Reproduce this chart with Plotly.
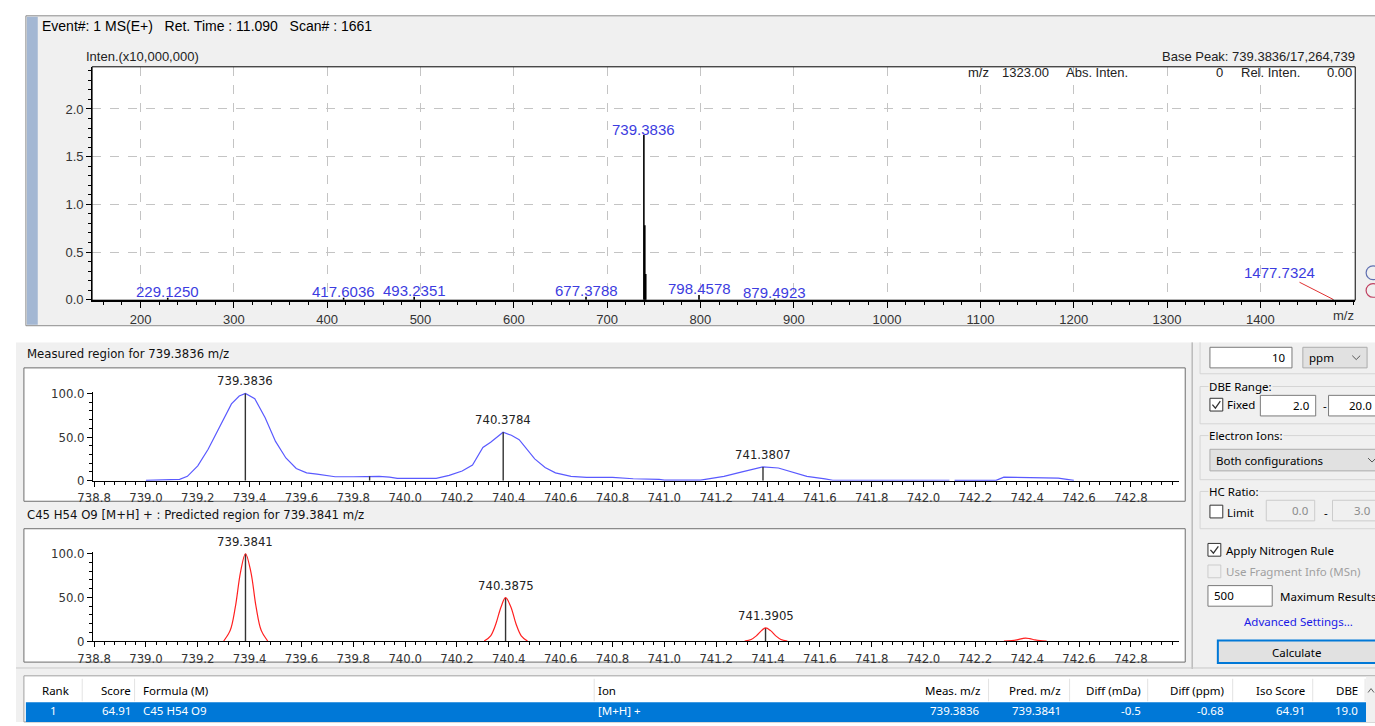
import plotly.graph_objects as go

W, H = 1375, 726

# ---------------- survey scan (intensity in units of 10,000,000) ----------------
survey_mz = [229.1250, 417.6036, 493.2351, 677.3788, 739.3836, 740.3784, 741.3807,
             798.4578, 879.4923, 1477.7324]
survey_int = [0.02, 0.02, 0.03, 0.03, 1.7264739, 0.78, 0.27, 0.05, 0.01, 0.005]
survey_labelled = [229.1250, 417.6036, 493.2351, 677.3788, 739.3836, 798.4578, 879.4923]
survey_callout = 1477.7324
survey_xticks = [200, 300, 400, 500, 600, 700, 800, 900, 1000, 1100, 1200, 1300, 1400]
survey_yticks = [0.0, 0.5, 1.0, 1.5, 2.0]
base_peak_mz = 739.3836
base_peak_abs = 17264739
event_no, ret_time, scan_no = 1, 11.090, 1661
cursor_mz, cursor_abs, cursor_rel = 1323.00, 0, 0.00

# ---------------- measured isotope region (relative %) ----------------
meas_profile_mz = [739.00, 739.05, 739.10, 739.13, 739.16, 739.20, 739.24, 739.29, 739.33, 739.36,
                   739.384, 739.42, 739.46, 739.50, 739.54, 739.58, 739.62, 739.66, 739.70, 739.73,
                   739.80, 739.84, 739.90, 739.94, 739.97, 740.12, 740.17, 740.22, 740.26, 740.30,
                   740.33, 740.378, 740.41, 740.44, 740.50, 740.54, 740.58, 740.64, 740.70, 740.80,
                   740.88, 740.98, 741.00, 741.14, 741.18, 741.23, 741.30, 741.38, 741.44, 741.49,
                   741.55, 741.62, 741.65, 742.10, None, 742.12, 742.28, 742.31, 742.36, 742.43,
                   742.52, 742.58]
meas_profile_rel = [0.3, 0.5, 0.8, 1.5, 5, 17, 36, 64, 88, 97,
                    100, 94, 72, 45, 26, 14, 9, 7.5, 6, 4.5,
                    4.5, 5, 5, 4, 2.6, 2.6, 6, 11, 18, 38,
                    44, 55.5, 52, 47, 25, 15, 9, 5, 3.7, 3.7,
                    2.2, 1.5, 0.7, 0.7, 2.5, 5, 10, 15.7, 14.5, 10,
                    5, 2, 0.5, 0.5, None, 0.3, 0.3, 4, 3.8, 3,
                    3, 0.3]
meas_centroid_mz = [739.3836, 739.8630, 740.3784, 741.3807]
meas_centroid_rel = [100.0, 5.0, 55.5, 15.7]
meas_labelled = [739.3836, 740.3784, 741.3807]

# ---------------- predicted isotope pattern, C45 H54 O9 [M+H]+ ----------------
pred_centroid_mz = [739.3841, 740.3875, 741.3905, 742.3935]
pred_centroid_rel = [100.0, 49.6, 15.0, 3.4]
pred_labelled = [739.3841, 740.3875, 741.3905]
pred_peak1_mz = [739.300, 739.325, 739.345, 739.365, 739.3841, 739.405, 739.425, 739.445, 739.470]
pred_peak1_rel = [0, 12, 39, 79, 100, 79, 39, 12, 0]
pred_peak2_mz = [740.305, 740.330, 740.350, 740.370, 740.3875, 740.408, 740.428, 740.448, 740.472]
pred_peak2_rel = [0, 6, 19.5, 39, 49.6, 39, 19.5, 6, 0]
pred_peak3_mz = [741.310, 741.335, 741.355, 741.375, 741.3905, 741.410, 741.430, 741.450, 741.475]
pred_peak3_rel = [0, 1.8, 5.9, 11.9, 15.0, 11.9, 5.9, 1.8, 0]
pred_peak4_mz = [742.310, 742.340, 742.360, 742.380, 742.3935, 742.410, 742.430, 742.450, 742.475]
pred_peak4_rel = [0, 0.4, 1.3, 2.7, 3.4, 2.7, 1.3, 0.4, 0]

zoom_xticks = [738.8, 739.0, 739.2, 739.4, 739.6, 739.8, 740.0, 740.2, 740.4, 740.6,
               740.8, 741.0, 741.2, 741.4, 741.6, 741.8, 742.0, 742.2, 742.4, 742.6, 742.8]
zoom_yticks = [0, 50, 100]
zoom_yticktext = ["0", "50.0", "100.0"]

formula, ion = "C45 H54 O9", "[M+H] +"

# ---------------- result table ----------------
table_headers = ["Rank", "Score", "Formula (M)", "Ion", "Meas. m/z", "Pred. m/z",
                 "Diff (mDa)", "Diff (ppm)", "Iso Score", "DBE"]
result_row = ["1", "64.91", "C45 H54 O9", "[M+H] +", "739.3836", "739.3841",
              "-0.5", "-0.68", "64.91", "19.0"]

# ---------------- styling ----------------
CHART_FONT = "Liberation Sans, Arial, sans-serif"
NARROW_FONT = "Liberation Sans Narrow, Arial Narrow, DejaVu Sans Condensed, sans-serif"
UI_FONT = "Noto Sans, Segoe UI, Tahoma, sans-serif"
LABEL_BLUE = "#3c3ce0"
PROFILE_BLUE = "#5a5aff"
PROFILE_RED = "#ff2020"
PANEL_GRAY = "#f0f0f0"

shapes, annotations = [], []


def px(x):
    return x / W


def py(y):
    return 1 - y / H


def rect(x0, y0, x1, y1, fill=None, line=None, lw=1, layer="below"):
    shapes.append(dict(type="rect", xref="paper", yref="paper",
                       x0=px(x0), x1=px(x1), y0=py(y1), y1=py(y0),
                       fillcolor=fill or "rgba(0,0,0,0)",
                       line=dict(color=line or "rgba(0,0,0,0)", width=lw if line else 0),
                       layer=layer))


def hline(x0, x1, y, color, lw=1, layer="below"):
    shapes.append(dict(type="line", xref="paper", yref="paper", x0=px(x0), x1=px(x1),
                       y0=py(y), y1=py(y), line=dict(color=color, width=lw), layer=layer))


def vline(x, y0, y1, color, lw=1, layer="below"):
    shapes.append(dict(type="line", xref="paper", yref="paper", x0=px(x), x1=px(x),
                       y0=py(y0), y1=py(y1), line=dict(color=color, width=lw), layer=layer))


def path(points, color, lw=1.5, layer="above"):
    d = "M " + " L ".join(f"{px(x):.5f},{py(y):.5f}" for x, y in points)
    shapes.append(dict(type="path", xref="paper", yref="paper", path=d,
                       line=dict(color=color, width=lw), layer=layer))


def text(x, y, s, size=11, color="#000000", anchor="left", family=UI_FONT, bg=None):
    a = dict(xref="paper", yref="paper", x=px(x), y=py(y), text=s, showarrow=False,
             xanchor=anchor, yanchor="middle", borderpad=0,
             font=dict(family=family, size=size, color=color))
    if bg:
        a["bgcolor"] = bg
    annotations.append(a)


def checkbox(x, y, checked, enabled=True):
    rect(x, y, x + 13, y + 13, "#ffffff" if enabled else PANEL_GRAY,
         "#333333" if enabled else "#cccccc")
    if checked:
        path([(x + 2.5, y + 6.5), (x + 5.5, y + 10), (x + 10.5, y + 3)], "#333333", 1.3)


def textbox(x0, y0, x1, y1, s, align="right", enabled=True, text_right=None):
    rect(x0, y0, x1, y1, "#ffffff" if enabled else PANEL_GRAY,
         "#7a7a7a" if enabled else "#cccccc")
    col = "#000000" if enabled else "#8c8c8c"
    ym = (y0 + y1) / 2
    if align == "right":
        text(text_right if text_right is not None else x1 - 5, ym, s, 11.5, col, "right")
    else:
        text(x0 + 5, ym, s, 11.5, col, "left")


def combo(x0, y0, x1, y1, s, chevron_x):
    rect(x0, y0, x1, y1, "#e1e1e1", "#adadad")
    ym = (y0 + y1) / 2
    text(x0 + 5, ym, s, 11.5)
    path([(chevron_x - 4, ym - 2), (chevron_x, ym + 2), (chevron_x + 4, ym - 2)], "#555555", 1)


def group(x0, y_top, y_bot, label):
    rect(x0, y_top, 1390, y_bot, None, "#d5d5d5")
    text(x0 + 8, y_top, label, 11.5, bg=PANEL_GRAY)


# ---------------- backgrounds & panels ----------------
rect(10, 10, 1390, 326, PANEL_GRAY, "#8c8c8c")
rect(11, 11, 22, 325, "#a3b7d3")
rect(77, 62, 1355, 300, "#ffffff")
rect(0, 343, 1390, 730, PANEL_GRAY)
rect(8, 369, 1183, 505, "#ffffff", "#6e6e6e")
rect(8, 533, 1183, 669, "#ffffff", "#6e6e6e")

# small zoom buttons at right edge of survey panel
for cy, col in [(272, "#6070b0"), (290, "#c04060")]:
    shapes.append(dict(type="circle", xref="paper", yref="paper",
                       x0=px(1366), x1=px(1380), y0=py(cy + 7), y1=py(cy - 7),
                       line=dict(color=col, width=1.2), layer="above"))

# ---------------- survey header texts ----------------
text(25, 20, f"Event#: {event_no} MS(E+)\u00a0\u00a0 Ret. Time : {ret_time:.3f}\u00a0\u00a0 Scan# : {scan_no}",
     14, "#000000", family=CHART_FONT)
text(70, 52, "Inten.(x10,000,000)", 13, "#222222", family=CHART_FONT)
text(1356, 51, f"Base Peak: {base_peak_mz:.4f}/{base_peak_abs:,}", 13, "#222222", "right", CHART_FONT)
text(985, 68, "m/z", 13, "#222222", "right", CHART_FONT)
text(1046, 68, f"{cursor_mz:.2f}", 13, "#222222", "right", CHART_FONT)
text(1061, 68, "Abs. Inten.", 13, "#222222", "left", CHART_FONT)
text(1222, 68, f"{cursor_abs}", 13, "#222222", "right", CHART_FONT)
text(1238, 68, "Rel. Inten.", 13, "#222222", "left", CHART_FONT)
text(1353, 68, f"{cursor_rel:.2f}", 13, "#222222", "right", CHART_FONT)
text(1343, 316, "m/z", 13, "#333333", "center", CHART_FONT)

# ---------------- panel captions ----------------
text(10, 354, f"Measured region for {meas_centroid_mz[0]:.4f} m/z", 13, "#111111", family=NARROW_FONT)
text(10, 519, f"{formula} {ion} : Predicted region for {pred_centroid_mz[0]:.4f} m/z", 13, "#111111",
     family=NARROW_FONT)

# ---------------- settings column ----------------
vline(1190, 343, 676, "#a0a0a0")
vline(1198, 343, 375, "#d5d5d5")
hline(1198, 1390, 375, "#d5d5d5")
textbox(1208, 348, 1291, 369, "10")
combo(1302, 348, 1367, 369, "ppm", 1356)
group(1198, 388, 426, "DBE Range:")
checkbox(1208, 400, True)
text(1224, 406, "Fixed", 11.5)
textbox(1259, 397, 1315, 418, "2.0")
text(1321, 407, "-", 11.5)
textbox(1328, 397, 1386, 418, "20.0", text_right=1373)
group(1198, 438, 483, "Electron Ions:")
combo(1208, 452, 1390, 474, "Both configurations", 1372)
group(1198, 495, 533, "HC Ratio:")
checkbox(1208, 509, False)
text(1224, 516, "Limit", 11.5)
textbox(1265, 504, 1314, 525, "0.0", enabled=False)
text(1322, 516, "-", 11.5)
textbox(1332, 504, 1381, 525, "3.0", enabled=False, text_right=1372)
checkbox(1206, 548, True)
text(1223, 555, "Apply Nitrogen Rule", 11.5)
checkbox(1206, 570, False, enabled=False)
text(1223, 577, "Use Fragment Info (MSn)", 11.5, "#a0a0a0")
textbox(1206, 591, 1271, 612, "500", align="left")
text(1278, 602, "Maximum Results", 11.5)
text(1241, 628, "Advanced Settings...", 11.5, "#1a1ae6")
rect(1216, 647, 1390, 670, "#e1e1e1", "#0078d7", 2)
text(1296, 659, "Calculate", 11.5, "#000000", "center")

# ---------------- result table ----------------
hline(0, 1375, 675, "#c8c8c8")
rect(8, 683, 1390, 730, "#ffffff", "#a0a0a0")
for sx in [67, 120, 585, 984, 1066, 1145, 1231, 1312, 1365]:
    vline(sx, 686, 709, "#e3e3e3")
rect(10, 710, 1366, 730, "#0078d7")
rect(1366, 684, 1390, 730, PANEL_GRAY)
path([(1368, 700), (1371, 696), (1374, 700)], "#606060", 1)
col_x = [25, 117, 127, 588, 976, 1058, 1139, 1223, 1305, 1359]
col_anchor = ["left", "right", "left", "left", "right", "right", "right", "right", "right", "right"]
for hdr, cx, an in zip(table_headers, col_x, col_anchor):
    text(cx, 698, hdr, 11.5, "#000000", an)
for i, (val, cx, an) in enumerate(zip(result_row, col_x, col_anchor)):
    if i == 0:
        text(38, 718, val, 11.5, "#ffffff", "center")
    else:
        text(cx, 718, val, 11.5, "#ffffff", an)

# ---------------- traces ----------------
fig = go.Figure()


def sticks(mz, heights):
    xs, ys = [], []
    for m, h in zip(mz, heights):
        xs += [m, m, None]
        ys += [0, h, None]
    return xs, ys


sx, sy = sticks(survey_mz, survey_int)
fig.add_trace(go.Scatter(x=sx, y=sy, mode="lines", line=dict(color="#000000", width=1.6),
                         xaxis="x", yaxis="y", hoverinfo="skip"))

fig.add_trace(go.Scatter(x=meas_profile_mz, y=meas_profile_rel, mode="lines",
                         line=dict(color=PROFILE_BLUE, width=1.2), connectgaps=False,
                         xaxis="x2", yaxis="y2", hoverinfo="skip"))
mx, my = sticks(meas_centroid_mz, meas_centroid_rel)
fig.add_trace(go.Scatter(x=mx, y=my, mode="lines", line=dict(color="#333333", width=1.4),
                         xaxis="x2", yaxis="y2", hoverinfo="skip"))

px_, py_ = sticks(pred_centroid_mz[:3], pred_centroid_rel[:3])
fig.add_trace(go.Scatter(x=px_, y=py_, mode="lines", line=dict(color="#333333", width=1.4),
                         xaxis="x3", yaxis="y3", hoverinfo="skip"))
for pmz, prel in [(pred_peak1_mz, pred_peak1_rel), (pred_peak2_mz, pred_peak2_rel),
                  (pred_peak3_mz, pred_peak3_rel), (pred_peak4_mz, pred_peak4_rel)]:
    fig.add_trace(go.Scatter(x=pmz, y=prel, mode="lines", line=dict(color=PROFILE_RED, width=1.2, shape="spline"),
                             xaxis="x3", yaxis="y3", hoverinfo="skip"))

# peak labels
for m in survey_labelled:
    h = survey_int[survey_mz.index(m)]
    annotations.append(dict(xref="x", yref="y", x=m, y=h, text=f"{m:.4f}", showarrow=False,
                            xanchor="center", yanchor="middle", yshift=6,
                            font=dict(family=CHART_FONT, size=15, color=LABEL_BLUE)))
annotations.append(dict(xref="x", yref="y", x=survey_callout, y=survey_int[survey_mz.index(survey_callout)],
                        text=f"{survey_callout:.4f}", showarrow=True, arrowhead=0, arrowwidth=1,
                        arrowcolor="#e03030", ax=-53, ay=-27,
                        font=dict(family=CHART_FONT, size=15, color=LABEL_BLUE)))
for m in meas_labelled:
    h = meas_centroid_rel[meas_centroid_mz.index(m)]
    annotations.append(dict(xref="x2", yref="y2", x=m, y=h, text=f"{m:.4f}", showarrow=False,
                            xanchor="center", yanchor="bottom", yshift=3,
                            font=dict(family=NARROW_FONT, size=13, color="#222222")))
for m in pred_labelled:
    h = pred_centroid_rel[pred_centroid_mz.index(m)]
    annotations.append(dict(xref="x3", yref="y3", x=m, y=h, text=f"{m:.4f}", showarrow=False,
                            xanchor="center", yanchor="bottom", yshift=3,
                            font=dict(family=NARROW_FONT, size=13, color="#222222")))

# plot-area frame of the survey chart
rect(77, 62, 1355, 300, None, "#000000", 1, layer="above")

# ---------------- axes ----------------
survey_px_per_unit = (1259 - 126) / 1200.0
sx_lo = 200 - (126 - 77) / survey_px_per_unit
sx_hi = 1400 + (1355 - 1259) / survey_px_per_unit
sy_px = (299.5 - 105) / 2.0
sy_lo = -(300 - 299.5) / sy_px
sy_hi = 2.0 + (105 - 62) / sy_px

zoom_px_per_unit = (1128 - 79) / 4.0
zx_lo = 738.8 - (79 - 78) / zoom_px_per_unit
zx_hi = 738.8 + (1177 - 79) / zoom_px_per_unit
z_px = 0.89

axis_common = dict(showline=True, linecolor="#000000", ticks="outside", tickcolor="#000000",
                   zeroline=False, fixedrange=True)

fig.update_layout(
    width=W, height=H, autosize=False, showlegend=False,
    margin=dict(l=0, r=0, t=0, b=0, pad=0),
    paper_bgcolor="#ffffff", plot_bgcolor="rgba(0,0,0,0)",
    xaxis=dict(domain=[px(77), px(1355)], range=[sx_lo, sx_hi], anchor="y",
               tickmode="array", tickvals=survey_xticks, ticklen=6, linewidth=2,
               showgrid=True, gridcolor="#c4c4c4", griddash="dash", gridwidth=1,
               tickfont=dict(family=CHART_FONT, size=13, color="#333333"),
               minor=dict(tickmode="linear", tick0=0, dtick=20, ticks="outside", ticklen=3,
                          tickcolor="#000000", showgrid=False),
               **axis_common),
    yaxis=dict(domain=[py(300), py(62)], range=[sy_lo, sy_hi], anchor="x",
               tickmode="array", tickvals=survey_yticks, ticktext=[f"{v:.1f}" for v in survey_yticks],
               ticklen=5, linewidth=1,
               showgrid=True, gridcolor="#c4c4c4", griddash="dash", gridwidth=1,
               tickfont=dict(family=CHART_FONT, size=13, color="#333333"),
               minor=dict(tickmode="linear", tick0=0, dtick=0.1, ticks="outside", ticklen=3,
                          tickcolor="#000000", showgrid=False),
               **axis_common),
    xaxis2=dict(domain=[px(78), px(1177)], range=[zx_lo, zx_hi], anchor="y2",
                tickmode="array", tickvals=zoom_xticks, ticktext=[f"{v:.1f}" for v in zoom_xticks],
                ticklen=5, linewidth=1, showgrid=False,
                tickfont=dict(family=NARROW_FONT, size=13, color="#333333"),
                minor=dict(tickmode="linear", tick0=738.8, dtick=0.04, ticks="outside", ticklen=3,
                           tickcolor="#000000", showgrid=False),
                **axis_common),
    yaxis2=dict(domain=[py(484), py(484 - 101.5 * z_px)], range=[0, 101.5], anchor="x2",
                tickmode="array", tickvals=zoom_yticks, ticktext=zoom_yticktext,
                ticklen=5, linewidth=1, showgrid=False,
                tickfont=dict(family=NARROW_FONT, size=13, color="#333333"),
                minor=dict(tickmode="linear", tick0=0, dtick=10, ticks="outside", ticklen=3,
                           tickcolor="#000000", showgrid=False),
                **axis_common),
    xaxis3=dict(domain=[px(78), px(1177)], range=[zx_lo, zx_hi], anchor="y3",
                tickmode="array", tickvals=zoom_xticks, ticktext=[f"{v:.1f}" for v in zoom_xticks],
                ticklen=5, linewidth=1, showgrid=False,
                tickfont=dict(family=NARROW_FONT, size=13, color="#333333"),
                minor=dict(tickmode="linear", tick0=738.8, dtick=0.04, ticks="outside", ticklen=3,
                           tickcolor="#000000", showgrid=False),
                **axis_common),
    yaxis3=dict(domain=[py(647.5), py(647.5 - 101.5 * z_px)], range=[0, 101.5], anchor="x3",
                tickmode="array", tickvals=zoom_yticks, ticktext=zoom_yticktext,
                ticklen=5, linewidth=1, showgrid=False,
                tickfont=dict(family=NARROW_FONT, size=13, color="#333333"),
                minor=dict(tickmode="linear", tick0=0, dtick=10, ticks="outside", ticklen=3,
                           tickcolor="#000000", showgrid=False),
                **axis_common),
    shapes=shapes,
    annotations=annotations,
)

fig.write_html("out.html", config={"displayModeBar": False})
